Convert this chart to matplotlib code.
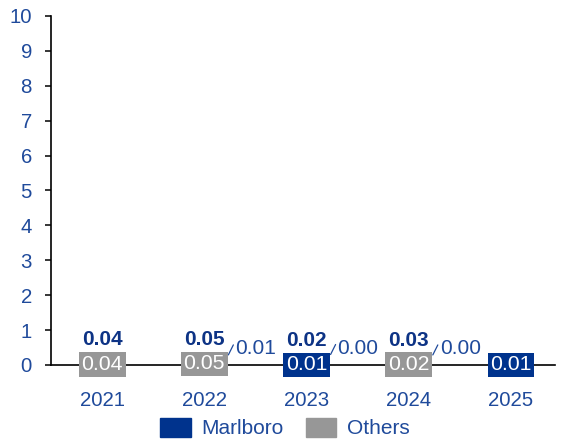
import matplotlib
matplotlib.use("Agg")
import matplotlib.pyplot as plt
from matplotlib.transforms import offset_copy
from matplotlib.patches import Patch

plt.rcParams['font.family'] = ['Liberation Sans', 'DejaVu Sans']

years = ["2021", "2022", "2023", "2024", "2025"]
marlboro = [0.000, 0.006, 0.012, 0.004, 0.010]
others = [0.040, 0.046, 0.004, 0.024, 0.000]
total_labels = ["0.04", "0.05", "0.02", "0.03", None]
yticks = list(range(0, 11))

c_marl = '#00338D'
c_oth = '#979797'
c_text = '#1F4A9B'
c_bold = '#0D3385'

fig = plt.figure(figsize=(5.66, 4.43), dpi=100)
ax = fig.add_axes([51/566, 1-365/443, (555-51)/566, (365-16)/443])

x = list(range(len(years)))
ax.bar(x, marlboro, width=0.45, color=c_marl, zorder=2)
ax.bar(x, others, width=0.45, bottom=marlboro, color=c_oth, zorder=2)

ax.set_xlim(-0.5, 4.43)
ax.set_ylim(0, 10)
ax.set_yticks(yticks)
ax.set_xticks(x)
ax.set_xticklabels(years)
for s in ['top', 'right']:
    ax.spines[s].set_visible(False)
for s in ['left', 'bottom']:
    ax.spines[s].set_linewidth(1.2)
    ax.spines[s].set_color('black')
ax.tick_params(axis='x', length=0, pad=19, labelsize=14.7, labelcolor=c_text)
ax.tick_params(axis='y', direction='out', length=4.3, width=1.1, pad=9.4,
               labelsize=14.7, labelcolor=c_text)

for i in x:
    m, o = marlboro[i], others[i]
    segs = [(m, m / 2, c_marl), (o, m + o / 2, c_oth)]
    big = max(range(2), key=lambda k: segs[k][0])
    small = 1 - big
    val, yc, col = segs[big]
    ax.text(i, yc, f"{val:.2f}", ha='center', va='center', color='white',
            fontsize=15.3, zorder=5,
            bbox=dict(boxstyle='square,pad=0.13', fc=col, ec='none'))
    sval, syc, _ = segs[small]
    has_small = not (i == 0 or i == 4)
    if has_small:
        ax.annotate('', xy=(i, syc),
                    xycoords=offset_copy(ax.transData, fig=fig, x=24, y=10, units='dots'),
                    xytext=(5, 10), textcoords='offset pixels',
                    arrowprops=dict(arrowstyle='-', color=c_text, lw=0.9,
                                    shrinkA=0, shrinkB=0))
        ax.annotate(f"{sval:.2f}", xy=(i, syc), xytext=(31, 16),
                    textcoords='offset pixels', ha='left', va='center',
                    color=c_text, fontsize=15, zorder=5)
    if total_labels[i] is not None:
        ax.annotate(total_labels[i], xy=(i, m + o), xytext=(0, 24),
                    textcoords='offset pixels', ha='center', va='center',
                    color=c_bold, fontsize=15, fontweight='bold', zorder=5)

handles = [Patch(color=c_marl, label='Marlboro'), Patch(color=c_oth, label='Others')]
leg = fig.legend(handles=handles, loc='center', bbox_to_anchor=(285/566, 1-428/443),
                 ncol=2, frameon=False, fontsize=15, handlelength=1.45,
                 handleheight=1.05, handletextpad=0.5, columnspacing=1.1,
                 borderpad=0, borderaxespad=0)
for t in leg.get_texts():
    t.set_color(c_text)

fig.savefig('out.png', dpi=100)
